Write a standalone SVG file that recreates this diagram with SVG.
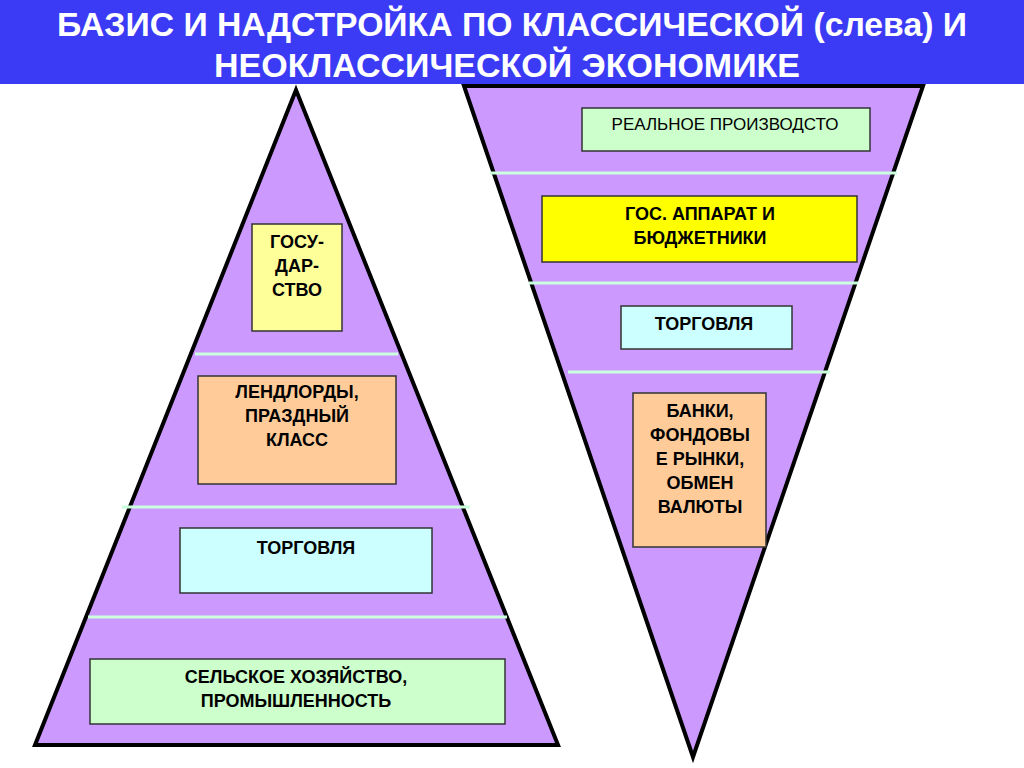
<svg xmlns="http://www.w3.org/2000/svg" width="1024" height="768" viewBox="0 0 1024 768">
<style>
.tri{fill:#cc99ff;stroke:#000;stroke-width:4;stroke-linejoin:miter}
.sep{stroke:#ccffdd;stroke-width:3}
.box{stroke:#333;stroke-width:1.5}
.t{font-family:"Liberation Sans",Arial,sans-serif;font-size:18px;font-weight:bold;fill:#000;text-anchor:middle}
.tr{font-family:"Liberation Sans",Arial,sans-serif;font-size:17px;fill:#000;text-anchor:middle}
.title{font-family:"Liberation Sans Narrow","Arial Narrow","Liberation Sans",sans-serif;font-size:34px;font-weight:bold;fill:#fff;text-anchor:middle}
</style>
<rect width="1024" height="768" fill="#fff"/>
<g id="title">
<rect x="0" y="0" width="1024" height="84" fill="#3b3bf6"/>
<text class="title" x="512" y="36" textLength="910" lengthAdjust="spacingAndGlyphs">БАЗИС И НАДСТРОЙКА ПО КЛАССИЧЕСКОЙ (слева) И</text>
<text class="title" x="507" y="77" textLength="586" lengthAdjust="spacingAndGlyphs">НЕОКЛАССИЧЕСКОЙ ЭКОНОМИКЕ</text>
</g>
<g id="pyramid-left">
<polygon class="tri" points="296,90 558,745 35,745"/>
</g>
<g id="pyramid-right">
<polygon class="tri" points="464,86 923,86 693,757"/>
</g>
<g id="connectors">
<line class="sep" x1="195" y1="354" x2="398" y2="354"/>
<line class="sep" x1="122" y1="507" x2="470" y2="507"/>
<line class="sep" x1="88" y1="617" x2="507" y2="617"/>
<line class="sep" x1="490" y1="173" x2="897" y2="173"/>
<line class="sep" x1="529" y1="283" x2="858" y2="283"/>
<line class="sep" x1="568" y1="372" x2="830" y2="372"/>
</g>
<g id="node-gosudarstvo">
<rect class="box" x="252" y="224" width="90" height="107" fill="#ffff99"/>
<text class="t" x="297" y="248">ГОСУ-</text>
<text class="t" x="297" y="272">ДАР-</text>
<text class="t" x="297" y="296">СТВО</text>
</g>
<g id="node-lendlordy">
<rect class="box" x="198" y="376" width="198" height="108" fill="#ffcc99"/>
<text class="t" x="297" y="398">ЛЕНДЛОРДЫ,</text>
<text class="t" x="297" y="422">ПРАЗДНЫЙ</text>
<text class="t" x="297" y="446">КЛАСС</text>
</g>
<g id="node-torgovlya-left">
<rect class="box" x="180" y="528" width="252" height="65" fill="#ccffff"/>
<text class="t" x="306" y="554">ТОРГОВЛЯ</text>
</g>
<g id="node-selskoe">
<rect class="box" x="90" y="659" width="415" height="65" fill="#ccffcc"/>
<text class="t" x="296" y="683">СЕЛЬСКОЕ ХОЗЯЙСТВО,</text>
<text class="t" x="296" y="707">ПРОМЫШЛЕННОСТЬ</text>
</g>
<g id="node-realnoe">
<rect class="box" x="582" y="108" width="288" height="43" fill="#ccffcc"/>
<text class="tr" x="725" y="130">РЕАЛЬНОЕ ПРОИЗВОДСТО</text>
</g>
<g id="node-gos-apparat">
<rect class="box" x="542" y="196" width="315" height="66" fill="#ffff00"/>
<text class="t" x="700" y="220">ГОС. АППАРАТ И</text>
<text class="t" x="700" y="244">БЮДЖЕТНИКИ</text>
</g>
<g id="node-torgovlya-right">
<rect class="box" x="621" y="306" width="171" height="43" fill="#ccffff"/>
<text class="t" x="704" y="330">ТОРГОВЛЯ</text>
</g>
<g id="node-banki">
<rect class="box" x="633" y="393" width="133" height="154" fill="#ffcc99"/>
<text class="t" x="700" y="417">БАНКИ,</text>
<text class="t" x="700" y="441">ФОНДОВЫ</text>
<text class="t" x="700" y="465">Е РЫНКИ,</text>
<text class="t" x="700" y="489">ОБМЕН</text>
<text class="t" x="700" y="513">ВАЛЮТЫ</text>
</g>
</svg>
